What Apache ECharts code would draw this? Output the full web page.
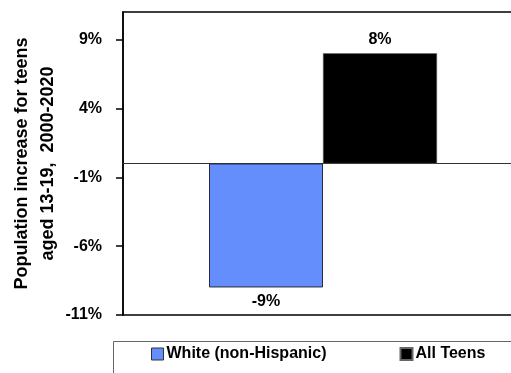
<!DOCTYPE html>
<html>
<head>
<meta charset="utf-8">
<script src="https://cdn.jsdelivr.net/npm/echarts@6/dist/echarts.min.js"></script>
<style>
  html, body { margin: 0; padding: 0; background: #fff; }
  #chart { width: 511px; height: 373px; }
</style>
</head>
<body>
<div id="chart"></div>
<script>
// Teen population change, 2000-2020
const categories = ['Teens 13-19'];
const seriesNames = ['White (non-Hispanic)', 'All Teens'];
const whiteValues = [-9];
const allTeensValues = [8];
const tickValues = [-11, -6, -1, 4, 9];

const FONT = 'Liberation Sans, Arial, sans-serif';

const chart = echarts.init(document.getElementById('chart'), null, { renderer: 'canvas' });

const labelStyle = {
  show: true,
  formatter: p => p.value + '%',
  fontFamily: FONT,
  fontWeight: 'bold',
  fontSize: 16,
  color: '#000',
  distance: 6
};

chart.setOption({
  animation: false,
  backgroundColor: '#fff',
  grid: {
    left: 123, top: 12, right: -12, bottom: 58,
    show: true, borderColor: '#000', borderWidth: 1.5,
    containLabel: false,
    outerBoundsMode: 'none'
  },
  // frame around the legend, running off the right and bottom edges
  graphic: [{
    type: 'rect',
    shape: { x: 113.5, y: 341.5, width: 420, height: 50 },
    style: { fill: 'none', stroke: '#666', lineWidth: 1 },
    silent: true
  }],
  legend: {
    left: 151, top: 346,
    padding: 0,
    itemGap: 73,
    itemWidth: 12, itemHeight: 12,
    icon: 'rect',
    textStyle: { fontFamily: FONT, fontWeight: 'bold', fontSize: 16, color: '#000', padding: [0, 0, 0, -2] },
    data: [
      { name: seriesNames[0], itemStyle: { borderColor: '#333', borderWidth: 1 } },
      { name: seriesNames[1] }
    ]
  },
  xAxis: {
    type: 'category',
    data: categories,
    axisLine: { show: true, onZero: true, lineStyle: { color: '#333', width: 1 } },
    axisTick: { show: false },
    axisLabel: { show: false },
    splitLine: { show: false }
  },
  yAxis: {
    type: 'value',
    min: -11, max: 11,
    name: 'Population increase for teens\naged 13-19,  2000-2020',
    nameLocation: 'middle',
    nameRotate: 90,
    nameGap: 62,
    nameMoveOverlap: false,
    nameTextStyle: { fontFamily: FONT, fontWeight: 'bold', fontSize: 18, color: '#000', lineHeight: 26 },
    axisLine: { show: true, lineStyle: { color: '#000', width: 1.5 } },
    axisTick: { show: true, length: 7, inside: false, customValues: tickValues, lineStyle: { color: '#000', width: 1.5 } },
    axisLabel: {
      customValues: tickValues,
      formatter: v => v + '%',
      margin: 21,
      fontFamily: FONT, fontWeight: 'bold', fontSize: 16, color: '#000'
    },
    splitLine: { show: false }
  },
  series: [
    {
      name: seriesNames[0],
      type: 'bar',
      barWidth: 114,
      barGap: '0%',
      data: whiteValues.map(v => ({ value: v, label: { position: v < 0 ? 'bottom' : 'top' } })),
      itemStyle: { color: '#648EFC', borderColor: '#2a2a3a', borderWidth: 1 },
      label: labelStyle
    },
    {
      name: seriesNames[1],
      type: 'bar',
      barWidth: 114,
      barGap: '0%',
      data: allTeensValues.map(v => ({ value: v, label: { position: v < 0 ? 'bottom' : 'top' } })),
      itemStyle: { color: '#000', borderColor: '#666', borderWidth: 0.5 },
      label: labelStyle
    }
  ]
});
</script>
</body>
</html>
